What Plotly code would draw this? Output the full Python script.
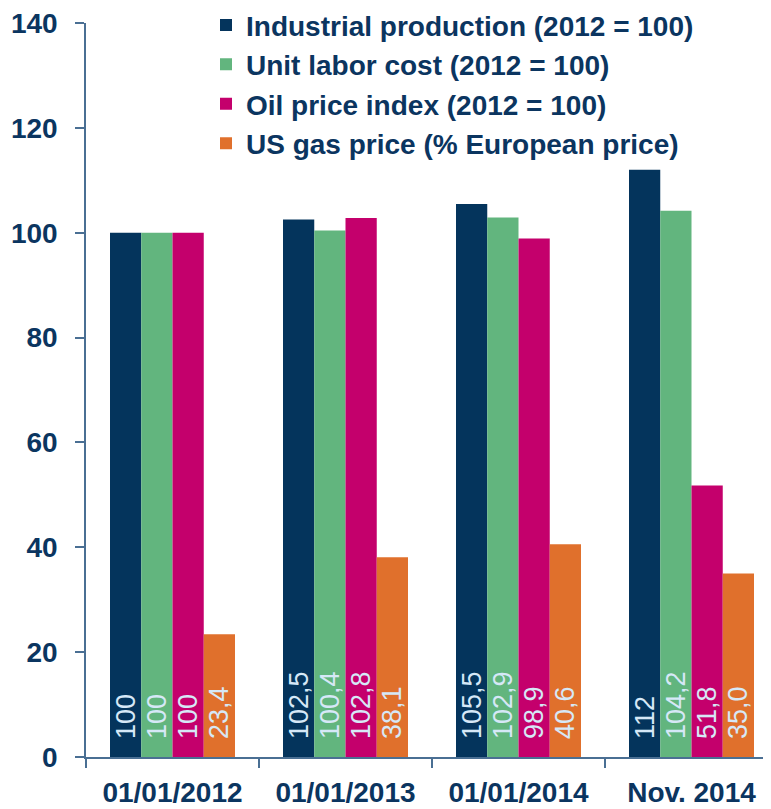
import plotly.graph_objects as go

categories = ["01/01/2012", "01/01/2013", "01/01/2014", "Nov. 2014"]
series_names = [
    "Industrial production (2012 = 100)",
    "Unit labor cost (2012 = 100)",
    "Oil price index (2012 = 100)",
    "US gas price (% European price)",
]
industrial = [100, 102.5, 105.5, 112]
labor_cost = [100, 100.4, 102.9, 104.2]
oil_index = [100, 102.8, 98.9, 51.8]
gas_price = [23.4, 38.1, 40.6, 35.0]

industrial_labels = ["100", "102,5", "105,5", "112"]
labor_cost_labels = ["100", "100,4", "102,9", "104,2"]
oil_index_labels = ["100", "102,8", "98,9", "51,8"]
gas_price_labels = ["23,4", "38,1", "40,6", "35,0"]

y_ticks = [0, 20, 40, 60, 80, 100, 120, 140]

colors = ["#04345c", "#62b57e", "#c4006c", "#e0702c"]
navy = "#0b3560"
axis_col = "#4a6f93"
label_col = "#d6e8f7"
FONT = "Liberation Sans, Arial, sans-serif"

all_values = [industrial, labor_cost, oil_index, gas_price]
all_labels = [industrial_labels, labor_cost_labels, oil_index_labels, gas_price_labels]

fig = go.Figure()
for name, vals, labs, col in zip(series_names, all_values, all_labels, colors):
    fig.add_trace(go.Bar(
        x=categories, y=vals, name=name,
        marker=dict(color=col, line=dict(width=0)),
        text=["\u00a0\u00a0" + t for t in labs],
        textposition="inside", insidetextanchor="start", textangle=-90,
        constraintext="none",
        textfont=dict(family=FONT, size=27, color=label_col),
        hoverinfo="skip",
    ))

# page body has an 8px default margin, so the figure is sized to fill the rest
W, H = 763, 801
L, R, T, B = 78, 0, 15, 52
fig.update_layout(
    width=W, height=H,
    margin=dict(l=L, r=R, t=T, b=B, autoexpand=False),
    barmode="group", bargap=0.2775, bargroupgap=0,
    paper_bgcolor="white", plot_bgcolor="white",
    font=dict(family=FONT, color=navy),
    showlegend=True,
    legend=dict(
        x=(198 - L) / (W - L), xanchor="left",
        y=1.031, yanchor="top",
        bgcolor="rgba(0,0,0,0)",
        font=dict(family=FONT, size=28, color=navy, weight="bold"),
        itemwidth=30, tracegroupgap=0,
    ),
    xaxis=dict(
        type="category",
        range=[-0.5, 3.5 - 7 / 173],
        showline=True, linecolor=axis_col, linewidth=1.5,
        ticks="outside", tickson="boundaries", ticklen=9, tickcolor=axis_col, tickwidth=1.5,
        tickfont=dict(family=FONT, size=28, color=navy, weight="bold"),
        ticklabelstandoff=10, ticklabeloverflow="allow",
        showgrid=False, zeroline=False, automargin=False,
    ),
    yaxis=dict(
        range=[0, 140],
        tickvals=y_ticks,
        showline=True, linecolor=axis_col, linewidth=1.5,
        ticks="outside", ticklen=9, tickcolor=axis_col, tickwidth=1.5,
        tickfont=dict(family=FONT, size=28, color=navy, weight="bold"),
        ticklabelstandoff=12, ticklabeloverflow="allow",
        showgrid=False, zeroline=False, automargin=False,
    ),
)

fig.write_html("out.html")
